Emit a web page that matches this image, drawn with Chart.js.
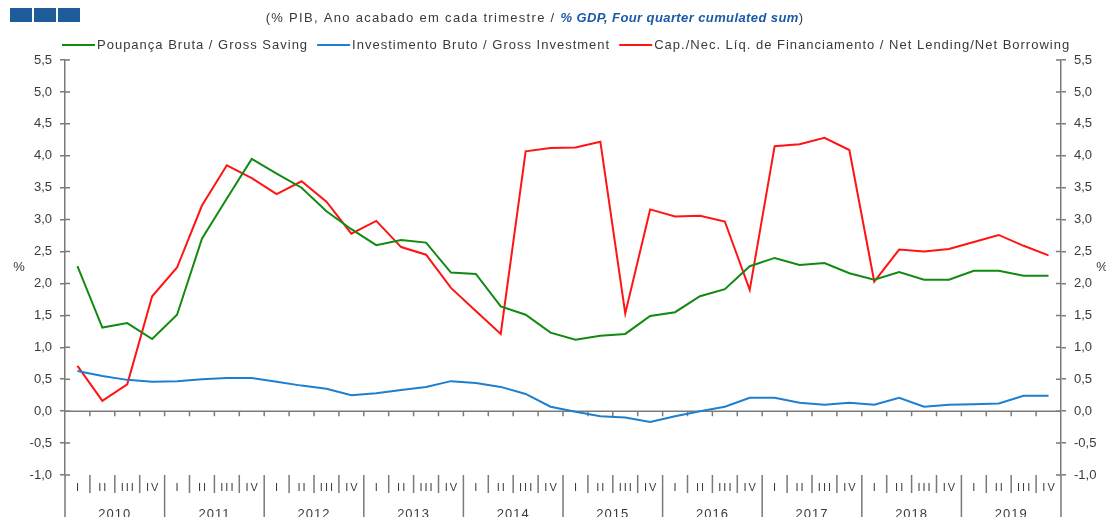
<!DOCTYPE html>
<html><head><meta charset="utf-8">
<script src="https://cdn.jsdelivr.net/npm/chart.js@4/dist/chart.umd.min.js"></script>
<style>html,body{margin:0;padding:0;background:#fff}#wrap{width:1106px;height:517px;position:relative}</style>
</head><body><div id="wrap"><canvas id="c" width="1106" height="517"></canvas></div>
<script>
// ---- data ----
const years = ['2010','2011','2012','2013','2014','2015','2016','2017','2018','2019'];
const quarterLabels = ['I','II','III','IV'];
const categories = years.flatMap(y => quarterLabels.map(q => q + ' ' + y));

const grossSaving = [
  2.27, 1.31, 1.38, 1.13,
  1.51, 2.70, 3.33, 3.95,
  3.72, 3.50, 3.13, 2.85,
  2.60, 2.68, 2.64, 2.17,
  2.15, 1.64, 1.51, 1.23,
  1.12, 1.18, 1.21, 1.49,
  1.55, 1.80, 1.91, 2.27,
  2.40, 2.29, 2.32, 2.16,
  2.06, 2.18, 2.06, 2.06,
  2.20, 2.20, 2.12, 2.12
];
const grossInvestment = [
  0.63, 0.55, 0.49, 0.46,
  0.47, 0.50, 0.52, 0.52,
  0.46, 0.40, 0.35, 0.25,
  0.28, 0.33, 0.38, 0.47,
  0.44, 0.38, 0.27, 0.07,
  -0.01, -0.08, -0.10, -0.17,
  -0.08, 0.00, 0.07, 0.21,
  0.21, 0.13, 0.10, 0.13,
  0.10, 0.21, 0.07, 0.10,
  0.11, 0.12, 0.24, 0.24
];
const netLending = [
  0.71, 0.16, 0.42, 1.80,
  2.25, 3.22, 3.85, 3.65,
  3.40, 3.60, 3.28, 2.78,
  2.98, 2.57, 2.45, 1.93,
  1.57, 1.21, 4.07, 4.12,
  4.13, 4.22, 1.53, 3.16,
  3.05, 3.06, 2.97, 1.90,
  4.15, 4.18, 4.28, 4.09,
  2.03, 2.53, 2.50, 2.54,
  2.65, 2.76, 2.59, 2.44
];
const seriesNames = [
  'Poupança Bruta / Gross Saving',
  'Investimento Bruto / Gross Investment',
  'Cap./Nec. Líq. de Financiamento / Net Lending/Net Borrowing'
];
const seriesColors = ['#128a12', '#1d7fd0', '#ff1414'];
const yMin = -1.0, yMax = 5.5, yStep = 0.5;
const titleParts = ['(% PIB, Ano acabado em cada trimestre / ', '% GDP, Four quarter cumulated sum', ')'];
const unitLabel = '%';

// ---- style ----
const FONT = '"Liberation Sans", Arial, sans-serif';
const AXIS = '#7a7a7a';
const TXT = '#3a3a3a';
const fmt = v => Number(v).toFixed(1).replace('.', ',');

const yAxisCommon = {
  min: yMin, max: yMax,
  ticks: { stepSize: yStep, callback: v => fmt(v), color: TXT, font: { family: FONT, size: 13 }, padding: 8 },
  grid: { drawOnChartArea: false, drawTicks: true, tickLength: 5, color: AXIS, lineWidth: 1.5 },
  border: { color: AXIS, width: 1.5 }
};

const deco = {
  id: 'deco',
  beforeDatasetsDraw(chart) {
    const { ctx, chartArea: a, scales: { x, y } } = chart;
    const H = chart.height;
    ctx.save();
    ctx.strokeStyle = AXIS; ctx.lineWidth = 1.5;
    const y0 = y.getPixelForValue(0);
    ctx.beginPath(); ctx.moveTo(a.left, y0); ctx.lineTo(a.right, y0); ctx.stroke();
    const n = categories.length;
    const half = (x.getPixelForValue(1) - x.getPixelForValue(0)) / 2;
    const bnd = i => i < n ? x.getPixelForValue(i) - half : x.getPixelForValue(n - 1) + half;
    ctx.beginPath();
    for (let i = 1; i < n; i++) { const bx = bnd(i); ctx.moveTo(bx, y0); ctx.lineTo(bx, y0 + 5); }
    y.ticks.forEach(t => {
      const py = y.getPixelForValue(t.value);
      ctx.moveTo(a.left, py); ctx.lineTo(a.left + 5, py);
      ctx.moveTo(a.right - 5, py); ctx.lineTo(a.right, py);
    });
    ctx.moveTo(a.left, a.bottom); ctx.lineTo(a.left, H);
    ctx.moveTo(a.right, a.bottom); ctx.lineTo(a.right, H);
    ctx.stroke();
    ctx.beginPath();
    for (let i = 1; i < n; i++) {
      const bx = bnd(i);
      ctx.moveTo(bx, a.bottom);
      ctx.lineTo(bx, i % 4 === 0 ? H : a.bottom + 18);
    }
    ctx.stroke();
    ctx.restore();
  },
  afterDraw(chart) {
    const { ctx, chartArea: a, scales: { x, y } } = chart;
    const n = categories.length;
    ctx.save();
    ctx.fillStyle = '#1f5c9c';
    for (let k = 0; k < 3; k++) ctx.fillRect(10 + k * 24, 8, 22, 14);
    // title
    ctx.textBaseline = 'middle';
    ctx.textAlign = 'left';
    const f1 = '13px ' + FONT, f2 = 'italic bold 13px ' + FONT;
    ctx.font = f1; ctx.letterSpacing = '1.3px';
    const w1 = ctx.measureText(titleParts[0]).width;
    const w3 = ctx.measureText(titleParts[2]).width;
    ctx.font = f2; ctx.letterSpacing = '0.4px';
    const w2 = ctx.measureText(titleParts[1]).width;
    let tx = 535 - (w1 + w2 + w3) / 2;
    const ty = 18;
    ctx.font = f1; ctx.letterSpacing = '1.3px'; ctx.fillStyle = TXT;
    ctx.fillText(titleParts[0], tx, ty); tx += w1;
    ctx.font = f2; ctx.letterSpacing = '0.4px'; ctx.fillStyle = '#1a5aa6';
    ctx.fillText(titleParts[1], tx, ty); tx += w2;
    ctx.font = f1; ctx.letterSpacing = '1.3px'; ctx.fillStyle = TXT;
    ctx.fillText(titleParts[2], tx, ty);
    // legend
    let lx = 62; const ly = 45;
    seriesNames.forEach((name, i) => {
      ctx.strokeStyle = seriesColors[i]; ctx.lineWidth = 2;
      ctx.beginPath(); ctx.moveTo(lx, ly); ctx.lineTo(lx + 33, ly); ctx.stroke();
      lx += 35;
      ctx.font = f1; ctx.letterSpacing = '1px'; ctx.fillStyle = TXT;
      ctx.fillText(name, lx, ly);
      lx += ctx.measureText(name).width + 9;
    });
    // unit labels
    ctx.letterSpacing = '0px';
    ctx.font = '13px ' + FONT; ctx.textAlign = 'center';
    const uy = (y.getPixelForValue(2.0) + y.getPixelForValue(2.5)) / 2;
    ctx.fillText(unitLabel, 19, uy);
    ctx.fillText(unitLabel, 1102, uy);
    // quarter labels
    ctx.font = '11px ' + FONT; ctx.letterSpacing = '2px';
    for (let i = 0; i < n; i++) {
      ctx.fillText(quarterLabels[i % 4], x.getPixelForValue(i) + 1, a.bottom + 13);
    }
    // year labels
    ctx.font = '13px ' + FONT; ctx.letterSpacing = '1px'; ctx.textBaseline = 'top';
    years.forEach((yr, k) => {
      const cx = (x.getPixelForValue(k * 4 + 1) + x.getPixelForValue(k * 4 + 2)) / 2;
      ctx.fillText(yr, cx, a.bottom + 33);
    });
    ctx.restore();
  }
};

new Chart(document.getElementById('c'), {
  type: 'line',
  data: {
    labels: categories,
    datasets: [
      { label: seriesNames[0], data: grossSaving, borderColor: seriesColors[0], yAxisID: 'y' },
      { label: seriesNames[1], data: grossInvestment, borderColor: seriesColors[1], yAxisID: 'y' },
      { label: seriesNames[2], data: netLending, borderColor: seriesColors[2], yAxisID: 'y' }
    ].map(d => Object.assign(d, { borderWidth: 2, pointRadius: 0, tension: 0, fill: false, backgroundColor: d.borderColor }))
  },
  options: {
    responsive: false, animation: false, devicePixelRatio: 1,
    layout: { padding: { top: 60, bottom: 42, left: 0, right: 0 } },
    plugins: { legend: { display: false }, title: { display: false }, tooltip: { enabled: false } },
    scales: {
      x: { type: 'category', display: false, offset: true },
      y: Object.assign({}, yAxisCommon, { position: 'left', afterFit: s => { s.width = 65; } }),
      y2: Object.assign({}, yAxisCommon, { position: 'right', afterFit: s => { s.width = 45; } })
    }
  },
  plugins: [deco]
});
</script>
</body></html>
